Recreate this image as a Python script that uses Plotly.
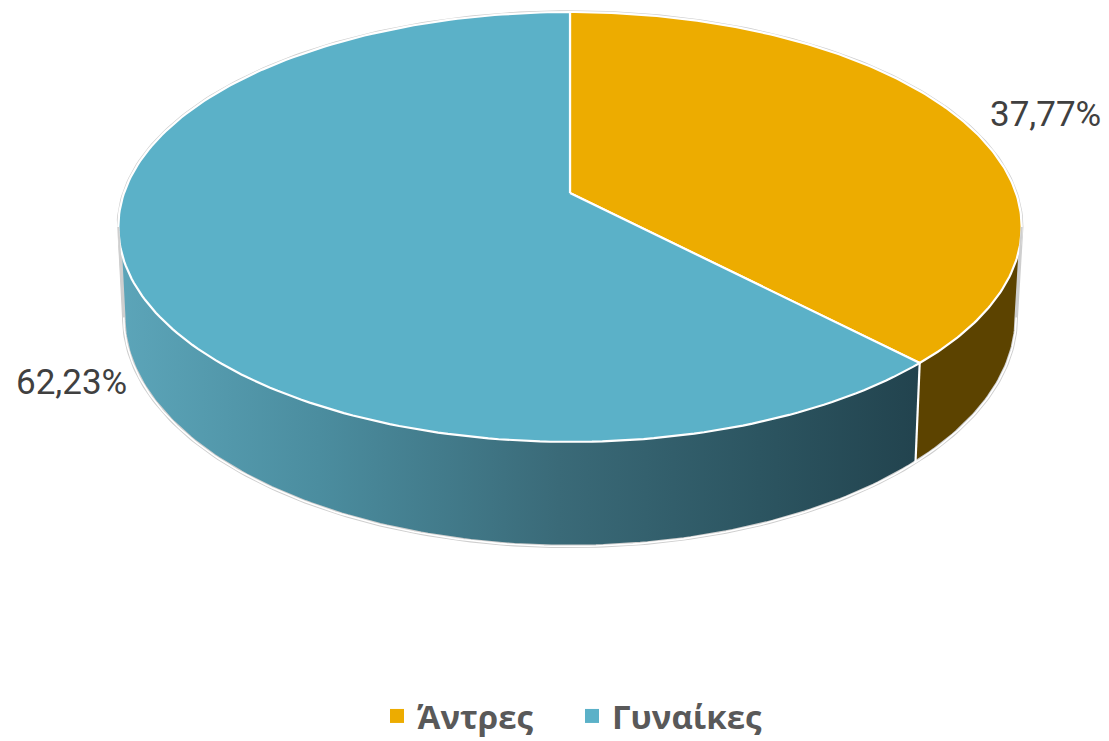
import numpy as np
import plotly.graph_objects as go

# ---- data ----
categories = ["Άντρες", "Γυναίκες"]
values = [37.77, 62.23]
top_colors = ["#EDAC00", "#5BB1C8"]
side_colors = ["#5C4300", None]
blue_side_scale = [[0.0, "#5CA5B9"], [0.25, "#4B8D9F"], [0.55, "#3A6A78"], [0.8, "#2C5561"], [1.0, "#22434E"]]

# ---- projection style (simple perspective of a tilted disk), in page pixels ----
CX, CY = 570.0, 193.0
KX, KY = 446.0, 209.6
A = 0.158          # perspective strength
H = 88.0           # thickness
SHRINK = 0.012     # bottom face slightly narrower

OFF = 8            # page body margin
W, HT = 1109 - OFF, 741 - OFF


def proj(theta, z):
    th = np.radians(theta)
    s, c = np.sin(th), np.cos(th)
    w = 1 + A * c
    x = CX + KX * s / w * (1 - SHRINK * z)
    y = CY - KY * c / w + H * z / w
    return x, y


def arc(t1, t2, z, n=200):
    t = np.linspace(t1, t2, n)
    return proj(t, z)


fig = go.Figure()

total = sum(values)
bounds = [0.0]
for v in values:
    bounds.append(bounds[-1] + v / total * 360.0)

ts = np.degrees(np.arccos(-A))  # silhouette angle
te = 360 - ts

# sides
for i in range(len(values)):
    t1, t2 = max(bounds[i], ts), min(bounds[i + 1], te)
    if t2 <= t1:
        continue
    xt, yt = arc(t1, t2, 0)
    xb, yb = arc(t2, t1, 1)
    xs = np.concatenate([xt, xb, xt[:1]])
    ys = np.concatenate([yt, yb, yt[:1]])
    kw = dict(fill="toself", mode="lines", line=dict(width=0), hoverinfo="skip", showlegend=False)
    if side_colors[i] is None:
        kw["fillgradient"] = dict(type="horizontal", colorscale=blue_side_scale)
    else:
        kw["fillcolor"] = side_colors[i]
    fig.add_trace(go.Scatter(x=xs, y=ys, **kw))

# outer silhouette (gray halo)
xb, yb = arc(ts, te, 1)
xt1, yt1 = arc(te, 360 + ts, 0)
xo = np.concatenate([xb, xt1, xb[:1]])
yo = np.concatenate([yb, yt1, yb[:1]])
fig.add_trace(go.Scatter(x=xo, y=yo, mode="lines", line=dict(color="#CFCFCF", width=3.5),
                         hoverinfo="skip", showlegend=False))

# top faces
for i in range(len(values)):
    xa, ya = arc(bounds[i], bounds[i + 1], 0)
    xs = np.concatenate([[CX], xa, [CX]])
    ys = np.concatenate([[CY], ya, [CY]])
    fig.add_trace(go.Scatter(x=xs, y=ys, fill="toself", fillcolor=top_colors[i], mode="lines",
                             line=dict(color="white", width=2.2), hoverinfo="skip", showlegend=False))

# white rim lines
fig.add_trace(go.Scatter(x=xb, y=yb, mode="lines", line=dict(color="white", width=1.6),
                         hoverinfo="skip", showlegend=False))
for t in bounds[1:-1]:
    if ts < t < te:
        x0, y0 = proj(t, 0)
        x1, y1 = proj(t, 1)
        fig.add_trace(go.Scatter(x=[x0, x1], y=[y0, y1], mode="lines", line=dict(color="white", width=2.2),
                                 hoverinfo="skip", showlegend=False))
for t in (ts, te):
    x0, y0 = proj(t, 0)
    x1, y1 = proj(t, 1)
    fig.add_trace(go.Scatter(x=[x0, x1], y=[y0, y1], mode="lines", line=dict(color="#CFCFCF", width=2),
                             hoverinfo="skip", showlegend=False))

# legend entries
for name, col in zip(categories, top_colors):
    fig.add_trace(go.Scatter(x=[None], y=[None], mode="markers", name=name,
                             marker=dict(symbol="square", size=14, color=col)))

# data labels
label_pos = [(1045, 114), (71, 382)]
for v, (lx, ly) in zip(values, label_pos):
    fig.add_annotation(x=lx, y=ly, text=f"{v:.2f}".replace(".", ",") + "%", showarrow=False,
                       font=dict(family="Roboto", size=35, color="#404040", weight=400),
                       xanchor="center", yanchor="middle")

fig.update_layout(
    width=W, height=HT, margin=dict(l=0, r=0, t=0, b=0, autoexpand=False),
    paper_bgcolor="white", plot_bgcolor="white",
    xaxis=dict(range=[OFF, 1109], visible=False, fixedrange=True),
    yaxis=dict(range=[741, OFF], visible=False, fixedrange=True),
    legend=dict(orientation="h", x=(377 - OFF) / W, xanchor="left", y=-3 / HT, yanchor="bottom",
                font=dict(family="Open Sans", size=33, color="#595959", weight="bold"),
                itemwidth=30, entrywidth=150, bgcolor="rgba(0,0,0,0)"),
    showlegend=True,
)

fig.write_html("out.html")
